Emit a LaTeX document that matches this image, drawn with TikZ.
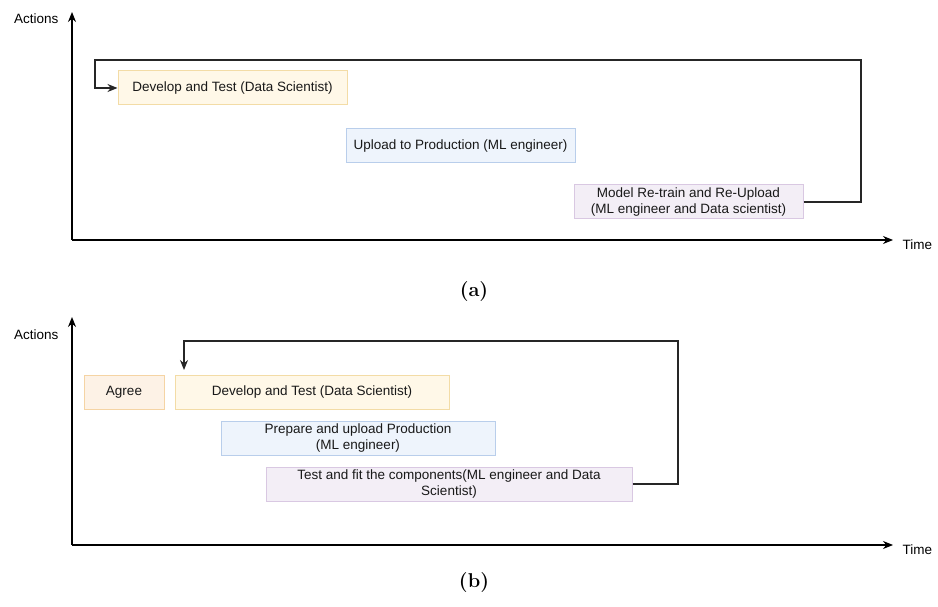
\documentclass[tikz,border=0pt]{standalone}
\usepackage{fontspec}
\setsansfont{Liberation Sans}
\usetikzlibrary{arrows.meta}
\definecolor{ylwfill}{HTML}{FFF8E8}
\definecolor{ylwline}{HTML}{F3DCA6}
\definecolor{orgfill}{HTML}{FDF2E6}
\definecolor{orgline}{HTML}{F5D4A4}
\definecolor{blufill}{HTML}{EEF4FC}
\definecolor{bluline}{HTML}{B9CEEB}
\definecolor{prpfill}{HTML}{F3EEF6}
\definecolor{prpline}{HTML}{D9C8E2}
\tikzset{
  box/.style={draw, line width=1pt, inner sep=0pt, align=center, font=\sffamily\fontsize{13.5}{16.5}\selectfont, text=black!90},
  axis/.style={line width=1.2pt, -{Stealth[length=10pt,width=8pt]}},
  loopline/.style={line width=1.2pt, draw=black!85},
  lbl/.style={font=\sffamily\fontsize{13.5}{16}\selectfont},
  captxt/.style={font=\fontsize{20}{24}\selectfont\bfseries}
}
\begin{document}
\begin{tikzpicture}[x=1pt,y=-1pt]
\useasboundingbox (0,0) rectangle (938,607);
% ---------- panel (a)
\coordinate (oa) at (72,240);
\coordinate (ya) at (72,12);
\coordinate (xa) at (893,240);
\draw[axis] (oa) -- (ya);
\draw[axis] (oa) -- (xa);
\node[lbl, anchor=east] (acta) at (62,19) {Actions};
\node[lbl, anchor=west] (timea) at (899,245) {Time};
\node[box, fill=ylwfill, draw=ylwline, minimum width=229pt, minimum height=34pt] (deva) at (232.5,88) {Develop and Test (Data Scientist)};
\node[box, fill=blufill, draw=bluline, minimum width=229pt, minimum height=34pt] (upa) at (460.5,146) {Upload to Production (ML engineer)};
\node[box, fill=prpfill, draw=prpline, minimum width=229pt, minimum height=34pt] (moda) at (688.5,202) {Model Re-train and Re-Upload\\(ML engineer and Data scientist)};
\coordinate (la1) at (861,60);
\coordinate (la2) at (95,60);
\draw[loopline, -{Stealth[length=10pt,width=8pt]}] (moda.east) -| (la1) -- (la2) |- (deva.west);
\node[captxt] (capa) at (474,292) {(a)};
% ---------- panel (b)
\coordinate (ob) at (72,545);
\coordinate (yb) at (72,317);
\coordinate (xb) at (893,545);
\draw[axis] (ob) -- (yb);
\draw[axis] (ob) -- (xb);
\node[lbl, anchor=east] (actb) at (62,335) {Actions};
\node[lbl, anchor=west] (timeb) at (899,550) {Time};
\node[box, fill=orgfill, draw=orgline, minimum width=80pt, minimum height=34pt] (agree) at (124,392) {Agree};
\node[box, fill=ylwfill, draw=ylwline, minimum width=274pt, minimum height=34pt] (devb) at (312,392) {Develop and Test (Data Scientist)};
\node[box, fill=blufill, draw=bluline, minimum width=274pt, minimum height=34pt] (prep) at (358,438) {Prepare and upload Production\\(ML engineer)};
\node[box, fill=prpfill, draw=prpline, minimum width=366pt, minimum height=34pt] (test) at (449,484) {Test and fit the components(ML engineer and Data\\Scientist)};
\coordinate (lb1) at (678,341);
\coordinate (lb2) at (184,341);
\coordinate (lb3) at (184,370);
\draw[loopline, -{Stealth[length=10pt,width=8pt]}] (test.east) -| (lb1) -- (lb2) -- (lb3);
\node[captxt] (capb) at (474,583) {(b)};
\end{tikzpicture}
\end{document}
